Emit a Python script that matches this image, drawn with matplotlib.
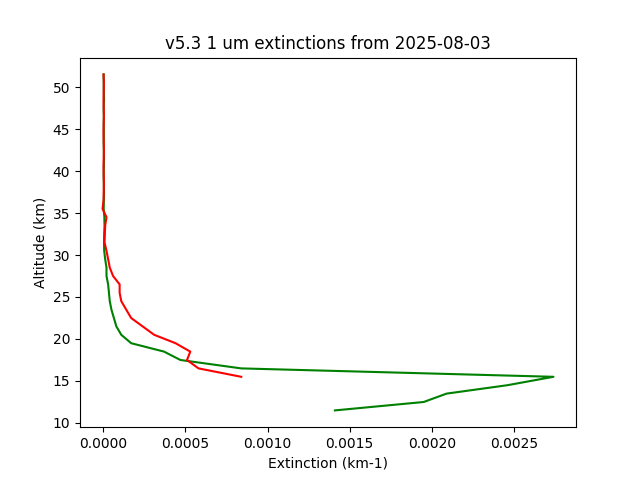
import numpy as np
import matplotlib
matplotlib.use('Agg')
import matplotlib.pyplot as plt

# altitude grid (km)
alt_green = np.arange(11.5, 52.0, 1.0)
alt_red = np.arange(15.5, 52.0, 1.0)

# extinction profiles (km-1)
ext_green = [0.00141, 0.00195, 0.00209, 0.00246, 0.00274, 0.00084, 0.00047, 0.00037,
             0.00017, 0.00011, 0.00008, 0.000065, 0.00005, 0.00004, 0.000035, 0.00003,
             0.00002, 0.00002, 0.000012, 0.000006, 0.000005, 0.000006, 0.000008, 0.000007,
             0.000003, 0.000004, 0.000005, 0.000004, 0.000003, 0.000004, 0.000005, 0.000004,
             0.000003, 0.000004, 0.000003, 0.000004, 0.000003, 0.000005, 0.000004, 0.000003,
             0.000003]
ext_red = [0.00084, 0.00058, 0.00051, 0.00053, 0.00044, 0.00031, 0.00024, 0.00017,
           0.00014, 0.00011, 0.0001, 0.0001, 0.00006, 0.00004, 0.00003, 0.00002,
           0.000008, 0.00001, 0.000012, 0.00002, -0.000004, 0.000002, 0.000003, 0.000004,
           0.000003, 0.000002, 0.000003, 0.000004, 0.000003, 0.000002, 0.000003, 0.000004,
           0.000003, 0.000002, 0.000003, 0.000004, 0.000002]

plt.figure(figsize=(6.4, 4.8), dpi=100)
plt.plot(ext_green, alt_green, color='g')
plt.plot(ext_red, alt_red, color='r')
plt.title('v5.3 1 um extinctions from 2025-08-03')
plt.xlabel('Extinction (km-1)')
plt.ylabel('Altitude (km)')
plt.savefig('out.png')
